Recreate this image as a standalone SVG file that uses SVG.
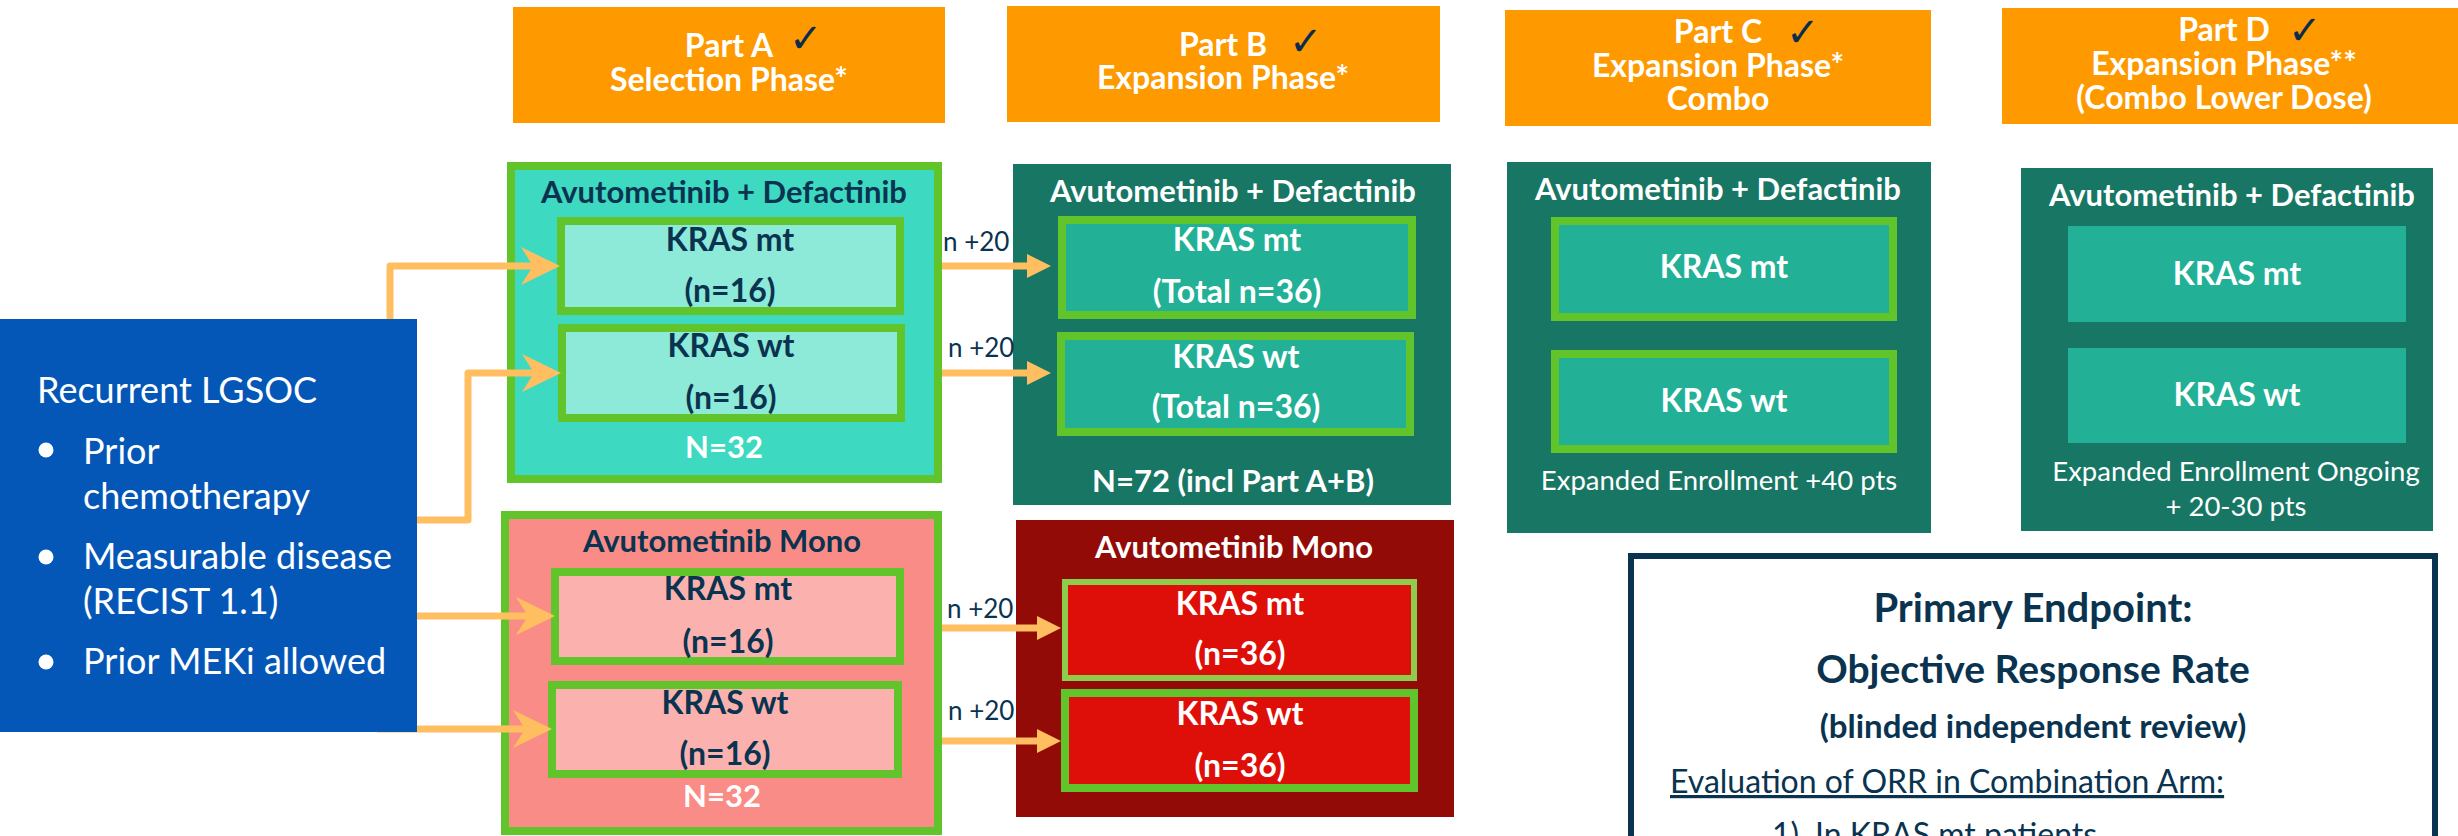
<svg xmlns="http://www.w3.org/2000/svg" width="2458" height="836" viewBox="0 0 2458 836">
<style>
text{font-family:Lato,"Liberation Sans",sans-serif}
.hdr{fill:#FE9900}
.hd{font-weight:700;font-size:32px;fill:#fff;text-anchor:middle}
.chk{font-family:"DejaVu Sans",sans-serif;font-size:40px;fill:#0A2D4F}
.ttlN{font-weight:700;font-size:31px;fill:#0A3350;text-anchor:middle}
.ttlW{font-weight:700;font-size:31px;fill:#fff;text-anchor:middle}
.kN{font-weight:700;font-size:32px;fill:#0A3350;text-anchor:middle}
.kW{font-weight:700;font-size:32px;fill:#fff;text-anchor:middle}
.nW{font-weight:700;font-size:31px;fill:#fff;text-anchor:middle}
.lbl{font-size:26px;fill:#0A3350}
.blu{font-size:36px;fill:#fff}
.exp{font-size:27.5px;fill:#fff;text-anchor:middle}
.gb{stroke:#62C42B;stroke-width:8}
.conn{fill:none;stroke:#FFBF60;stroke-width:7;stroke-linejoin:round}
.ep{fill:#0A3350;text-anchor:middle;font-weight:700}
</style>
<defs>
<marker id="big" markerUnits="userSpaceOnUse" viewBox="-40 -20 41 40" markerWidth="41" markerHeight="40" refX="-10" refY="0" orient="auto">
<path d="M-39,-19 L0,0 L-39,19 L-27,0 z" fill="#FFBF60"/>
</marker>
<marker id="sm" markerUnits="userSpaceOnUse" viewBox="-25 -13 26 26" markerWidth="26" markerHeight="26" refX="-8" refY="0" orient="auto">
<path d="M-24,-12 L0,0 L-24,12 z" fill="#FFBF60"/>
</marker>
</defs>
<rect width="2458" height="836" fill="#fff"/>

<g id="header-a">
<rect class="hdr" x="513" y="7" width="432" height="116"/>
<text class="hd" x="729" y="57">Part A</text>
<text class="chk" x="789" y="52">✓</text>
<text class="hd" x="729" y="91">Selection Phase*</text>
</g>
<g id="header-b">
<rect class="hdr" x="1007" y="6" width="433" height="116"/>
<text class="hd" x="1223" y="56">Part B</text>
<text class="chk" x="1289" y="55">✓</text>
<text class="hd" x="1223" y="89">Expansion Phase*</text>
</g>
<g id="header-c">
<rect class="hdr" x="1505" y="10" width="426" height="116"/>
<text class="hd" x="1718" y="43">Part C</text>
<text class="chk" x="1786" y="46">✓</text>
<text class="hd" x="1718" y="77">Expansion Phase*</text>
<text class="hd" x="1718" y="110">Combo</text>
</g>
<g id="header-d">
<rect class="hdr" x="2002" y="8" width="456" height="116"/>
<text class="hd" x="2224" y="41">Part D</text>
<text class="chk" x="2288" y="44">✓</text>
<text class="hd" x="2224" y="75">Expansion Phase**</text>
<text class="hd" x="2224" y="109">(Combo Lower Dose)</text>
</g>

<g id="partA-combo">
<rect class="gb" x="511" y="166" width="427" height="313" fill="#3DD9C1"/>
<text class="ttlN" x="724" y="203">Avutometinib + Defactinib</text>
<rect class="gb" x="561" y="221" width="339" height="90" fill="#8DE9D8"/>
<text class="kN" x="730" y="251">KRAS mt</text>
<text class="kN" x="730" y="302">(n=16)</text>
<rect class="gb" x="562" y="328" width="339" height="90" fill="#8DE9D8"/>
<text class="kN" x="731" y="357">KRAS wt</text>
<text class="kN" x="731" y="409">(n=16)</text>
<text class="nW" x="724" y="458">N=32</text>
</g>

<g id="partA-mono">
<rect class="gb" x="505" y="515" width="433" height="316" fill="#F98C86"/>
<text class="ttlN" x="722" y="552">Avutometinib Mono</text>
<rect class="gb" x="555" y="572" width="345" height="89" fill="#FBB2AF"/>
<text class="kN" x="728" y="600">KRAS mt</text>
<text class="kN" x="728" y="653">(n=16)</text>
<rect class="gb" x="552" y="685" width="346" height="89" fill="#FBB2AF"/>
<text class="kN" x="725" y="714">KRAS wt</text>
<text class="kN" x="725" y="765">(n=16)</text>
<text class="nW" x="722" y="807">N=32</text>
</g>

<g id="partB-combo">
<rect x="1013" y="164" width="438" height="341" fill="#177664"/>
<text class="ttlW" x="1233" y="202">Avutometinib + Defactinib</text>
<rect class="gb" x="1062" y="220" width="350" height="95" fill="#22B096"/>
<text class="kW" x="1237" y="251">KRAS mt</text>
<text class="kW" x="1237" y="303">(Total n=36)</text>
<rect class="gb" x="1061" y="336" width="349" height="96" fill="#22B096"/>
<text class="kW" x="1236" y="368">KRAS wt</text>
<text class="kW" x="1236" y="418">(Total n=36)</text>
<text class="nW" x="1233" y="492">N=72 (incl Part A+B)</text>
</g>

<g id="partB-mono">
<rect x="1016" y="520" width="438" height="297" fill="#930B06"/>
<text class="ttlW" x="1234" y="558">Avutometinib Mono</text>
<rect x="1065" y="582" width="349" height="96" fill="#DE0F09" stroke="#8DCC4D" stroke-width="6"/>
<text class="kW" x="1240" y="615">KRAS mt</text>
<text class="kW" x="1240" y="665">(n=36)</text>
<rect class="gb" x="1065" y="693" width="349" height="95" fill="#DE0F09"/>
<text class="kW" x="1240" y="725">KRAS wt</text>
<text class="kW" x="1240" y="777">(n=36)</text>
</g>

<g id="partC">
<rect x="1507" y="162" width="424" height="371" fill="#177664"/>
<text class="ttlW" x="1718" y="200">Avutometinib + Defactinib</text>
<rect class="gb" x="1555" y="221" width="338" height="96" fill="#22B096"/>
<text class="kW" x="1724" y="278">KRAS mt</text>
<rect class="gb" x="1555" y="354" width="338" height="95" fill="#22B096"/>
<text class="kW" x="1724" y="412">KRAS wt</text>
<text class="exp" x="1719" y="490">Expanded Enrollment +40 pts</text>
</g>

<g id="partD">
<rect x="2021" y="168" width="412" height="363" fill="#177664"/>
<text class="ttlW" x="2232" y="206">Avutometinib + Defactinib</text>
<rect x="2068" y="226" width="338" height="96" fill="#22B096"/>
<text class="kW" x="2237" y="285">KRAS mt</text>
<rect x="2068" y="348" width="338" height="95" fill="#22B096"/>
<text class="kW" x="2237" y="406">KRAS wt</text>
<text class="exp" x="2236" y="481">Expanded Enrollment Ongoing</text>
<text class="exp" x="2236" y="516">+ 20-30 pts</text>
</g>

<g id="endpoint">
<rect x="1631" y="556" width="804" height="320" fill="#fff" stroke="#0A3350" stroke-width="6"/>
<text class="ep" x="2033" y="622" font-size="40">Primary Endpoint:</text>
<text class="ep" x="2033" y="683" font-size="39">Objective Response Rate</text>
<text class="ep" x="2033" y="738" font-size="33">(blinded independent review)</text>
<text x="1670" y="793" font-size="32" fill="#0A3350" text-decoration="underline">Evaluation of ORR in Combination Arm:</text>
<text x="1772" y="846" font-size="32" fill="#0A3350">1)</text>
<text x="1815" y="846" font-size="32" fill="#0A3350">In KRAS mt patients</text>
</g>

<g id="connectors">
<path class="conn" d="M390,330 V266 H550" marker-end="url(#big)"/>
<path class="conn" d="M410,520 H468 V373 H551" marker-end="url(#big)"/>
<path class="conn" d="M410,616 H545" marker-end="url(#big)"/>
<path class="conn" d="M377,729 H542" marker-end="url(#big)"/>
<path class="conn" d="M942,266 H1043" marker-end="url(#sm)"/>
<path class="conn" d="M942,373 H1043" marker-end="url(#sm)"/>
<path class="conn" d="M942,628 H1053" marker-end="url(#sm)"/>
<path class="conn" d="M942,741 H1053" marker-end="url(#sm)"/>
<text class="lbl" x="943" y="251">n +20</text>
<text class="lbl" x="948" y="357">n +20</text>
<text class="lbl" x="947" y="618">n +20</text>
<text class="lbl" x="948" y="720">n +20</text>
</g>

<g id="population">
<rect x="0" y="319" width="417" height="413" fill="#0457B7"/>
<text class="blu" x="37" y="403">Recurrent LGSOC</text>
<circle cx="46" cy="450" r="7.5" fill="#fff"/>
<text class="blu" x="83" y="464">Prior</text>
<text class="blu" x="83" y="509">chemotherapy</text>
<circle cx="46" cy="557" r="7.5" fill="#fff"/>
<text class="blu" x="83" y="569">Measurable disease</text>
<text class="blu" x="83" y="614">(RECIST 1.1)</text>
<circle cx="46" cy="662" r="7.5" fill="#fff"/>
<text class="blu" x="83" y="674">Prior MEKi allowed</text>
</g>
</svg>
